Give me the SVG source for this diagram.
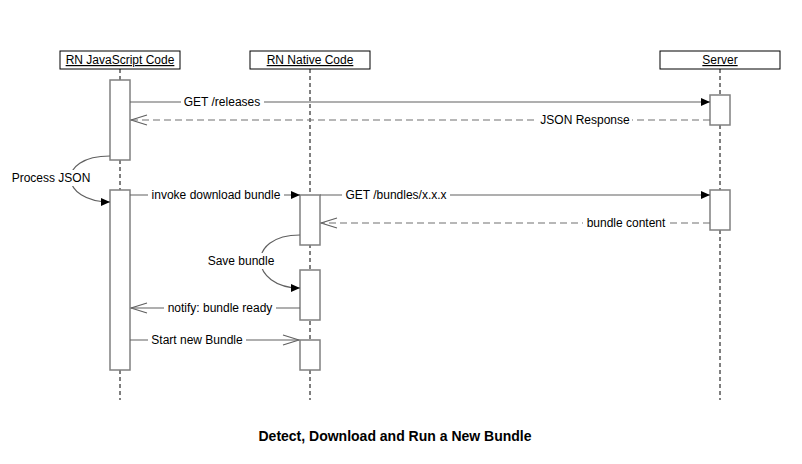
<svg xmlns="http://www.w3.org/2000/svg" width="802" height="464" viewBox="0 0 802 464">
<style>
text{font-family:"Liberation Sans",Arial,sans-serif;font-size:12px;fill:#000}
.hdr{fill:#fff;stroke:#000;stroke-width:1}
.hdrt{text-anchor:middle;text-decoration:underline}
.life{stroke:#000;stroke-width:1;stroke-dasharray:4,3;fill:none}
.act{fill:#fff;stroke:#808080;stroke-width:1.5}
.msg{stroke:#606060;stroke-width:1.2;fill:none}
.ret{stroke:#707070;stroke-width:1.2;fill:none;stroke-dasharray:7,4}
.bg{fill:#fff}
.lbl{text-anchor:middle}
.title{font-weight:bold;font-size:14px;text-anchor:middle}
</style>
<defs>
<marker id="fill" viewBox="0 0 9 8" refX="9" refY="4" markerWidth="9" markerHeight="8" markerUnits="userSpaceOnUse" orient="auto">
<path d="M0,0 L9,4 L0,8 z" fill="#000"/>
</marker>
<marker id="open" viewBox="-1 -1 18 12" refX="16" refY="5" markerWidth="18" markerHeight="12" markerUnits="userSpaceOnUse" orient="auto">
<path d="M0,0 L16,5 L0,10" fill="none" stroke="#606060" stroke-width="1.2"/>
</marker>
</defs>
<rect width="802" height="464" fill="#fff"/>
<g id="lifelines">
<line class="life" x1="120" y1="69" x2="120" y2="400"/>
<line class="life" x1="310" y1="69" x2="310" y2="400"/>
<line class="life" x1="720" y1="69" x2="720" y2="400"/>
</g>
<g id="node-js">
<rect class="hdr" x="60" y="51" width="120" height="18"/>
<text class="hdrt" x="120" y="64">RN JavaScript Code</text>
</g>
<g id="node-native">
<rect class="hdr" x="250" y="51" width="120" height="18"/>
<text class="hdrt" x="310" y="64">RN Native Code</text>
</g>
<g id="node-server">
<rect class="hdr" x="660" y="51" width="120" height="18"/>
<text class="hdrt" x="720" y="64">Server</text>
</g>
<g id="activations">
<rect class="act" x="110" y="80" width="20" height="80"/>
<rect class="act" x="110" y="190" width="20" height="180"/>
<rect class="act" x="300" y="195" width="20" height="50"/>
<rect class="act" x="300" y="270" width="20" height="50"/>
<rect class="act" x="300" y="340" width="20" height="30"/>
<rect class="act" x="710" y="95" width="20" height="30"/>
<rect class="act" x="710" y="190" width="20" height="40"/>
</g>
<g id="connectors">
<line class="msg" x1="130" y1="102" x2="710" y2="102" marker-end="url(#fill)"/>
<rect class="bg" x="181" y="94" width="83" height="16"/>
<text class="lbl" x="222" y="106">GET /releases</text>
<line class="ret" x1="710" y1="120" x2="131" y2="120" marker-end="url(#open)"/>
<rect class="bg" x="538" y="112" width="94" height="16"/>
<text class="lbl" x="585" y="124">JSON Response</text>
<path class="msg" d="M110,156 C55,156 60,202 110,202" marker-end="url(#fill)"/>
<rect class="bg" x="10" y="170" width="84" height="16"/>
<text class="lbl" x="51" y="182">Process JSON</text>
<line class="msg" x1="130" y1="195" x2="300" y2="195" marker-end="url(#fill)"/>
<rect class="bg" x="148" y="187" width="136" height="16"/>
<text class="lbl" x="216" y="199">invoke download bundle</text>
<line class="msg" x1="320" y1="195" x2="710" y2="195" marker-end="url(#fill)"/>
<rect class="bg" x="342" y="187" width="108" height="16"/>
<text class="lbl" x="396" y="199">GET /bundles/x.x.x</text>
<line class="ret" x1="710" y1="223" x2="321" y2="223" marker-end="url(#open)"/>
<rect class="bg" x="583" y="215" width="86" height="16"/>
<text class="lbl" x="626" y="227">bundle content</text>
<path class="msg" d="M300,235 C245,235 250,288 300,288" marker-end="url(#fill)"/>
<rect class="bg" x="205" y="253" width="73" height="16"/>
<text class="lbl" x="241" y="265">Save bundle</text>
<line class="msg" x1="300" y1="308" x2="131" y2="308" marker-end="url(#open)"/>
<rect class="bg" x="164" y="300" width="112" height="16"/>
<text class="lbl" x="220" y="312">notify: bundle ready</text>
<line class="msg" x1="130" y1="340" x2="299" y2="340" marker-end="url(#open)"/>
<rect class="bg" x="148" y="332" width="98" height="16"/>
<text class="lbl" x="197" y="344">Start new Bundle</text>
</g>
<text class="title" x="395" y="441">Detect, Download and Run a New Bundle</text>
</svg>
